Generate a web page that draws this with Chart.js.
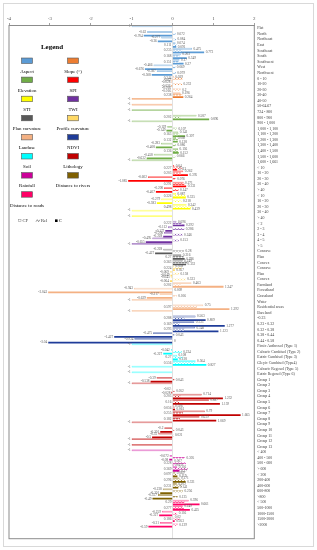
<!DOCTYPE html>
<html>
<head>
<meta charset="utf-8">
<script src="https://cdn.jsdelivr.net/npm/chart.js@4.4.1/dist/chart.umd.min.js"></script>
<style>
  html, body { margin: 0; padding: 0; background: #fff; }
  canvas { display: block; }
</style>
</head>
<body>
<canvas id="chart" width="317" height="550"></canvas>
<script>
// factors, their class counts and colours (legend order)
const factors = ['Aspect', 'Slope (\u00b0)', 'Elevation', 'SPI', 'STI', 'TWI', 'Plan curvature', 'Profile curvature',
  'Landuse', 'NDVI', 'Soil', 'Lithology', 'Rainfall', 'Distance to rivers', 'Distance to roads'];
const factorCounts = [9, 6, 10, 5, 5, 5, 3, 3, 6, 5, 6, 13, 4, 5, 5];
const factorColors = ['#5B9BD5', '#ED7D31', '#70AD47', '#FF0000', '#FFFF00', '#7030A0', '#595959', '#FFD966',
  '#F4B183', '#1F3C99', '#00FFFF', '#C00000', '#CC0099', '#7F6000', '#FF0066'];

const classLabels = [
  'Flat', 'North', 'Northeast', 'East', 'Southeast', 'South', 'Southwest', 'West', 'Northwest',
  '0 - 10', '10-20', '20-30', '30-40', '40-50', '50-64.67',
  '724 - 800', '800 - 900', '900 - 1,000', '1,000 - 1,100', '1,100 - 1,200', '1,200 - 1,300', '1,300 - 1,400', '1,400 - 1,500', '1,500 - 1,600', '1,600 - 1,661',
  '< 10', '10 - 20', '20 - 30', '30 - 40', '> 40',
  '< 10', '10 - 20', '20 - 30', '30 - 40', '> 40',
  '< 2', '2 - 3', '3 - 4', '4 - 5', '> 5',
  'Concave', 'Plan', 'Convex',
  'Concave', 'Plan', 'Convex',
  'Farmland', 'Forestland', 'Grassland', 'Water', 'Residential areas', 'Bareland',
  '-0.23', '0.23 - 0.32', '0.32 - 0.38', '0.38 - 0.44', '0.44 - 0.58',
  'Fimic Anthrosol (Type 1)', 'Calcaric Cambisol (Type 2)', 'Eutric Cambisol (Type 3)', 'Gleyic Cambisol (Type4)', 'Calcaric Regosol (Type 5)', 'Eutric Regosol (Type 6)',
  'Group 1', 'Group 2', 'Group 3', 'Group 4', 'Group 5', 'Group 6', 'Group 7', 'Group 8', 'Group 9', 'Group 10', 'Group 11', 'Group 12', 'Group 13',
  '< 400', '400 - 500', '500 - 600', '> 600',
  '< 200', '200-400', '400-600', '600-800', '>800',
  '< 500', '500-1000', '1000-1500', '1500-2000', '>2000'
];

const cfValues = [
  -1, -0.62, -0.277, 0.074, 0.475, 0.203, 0.17, -0.466, -0.387,
  0.029, -0.028, -0.016, 0.196, -1, -1,
  -1, 0.587, -1, -0.129, 0.141, 0.089, -0.283, 0.136, -0.458, -1,
  0.04, 0.262, -0.602, 0.271, -0.208,
  0.087, -0.279, 0.342, -1, -1,
  0.096, -0.112, -0.208, -0.495, -1,
  -0.228, 0.216, 0.249,
  0.038, -0.069, -0.045,
  0.463, -0.943, -0.317, -1, 0.75, -1,
  0.563, 0.533, 0.548, -0.475, -0.934,
  -1, -0.042, 0.108, 0.564, -1, -1,
  -0.39, -1, -0.02, 0.714, 0.887, 0.026, 0.79, 0.659, -1, -0.2, -0.35, -1, -1,
  -1, -0.072, 0.007, 0.116,
  0.069, 0.171, 0.102, -0.238, -0.357,
  0.396, 0.249, -0.259, 0.02, -0.31
];

const relValues = [
  null, 0.072, 0.084, 0.111, 0.235, 0.168, 0.151, 0.069, 0.079,
  0.244, 0.232, 0.2, 0.238, null, null,
  null, 0.202, null, 0.107, 0.163, 0.132, 0.086, 0.136, 0.066, null,
  0.227, 0.203, 0.076, 0.291, 0.147,
  0.326, 0.218, 0.498, null, null,
  0.222, 0.286, 0.246, 0.153, null,
  0.28, 0.27, 0.363,
  0.224, 0.158, 0.323,
  0.202, 0.009, 0.106, null, 0.597, null,
  0.288, 0.169, 0.293, 0.043, 0,
  null, 0.224, 0.27, 0.556, null, null,
  0.043, null, 0.052, 0.203, 0.16, 0.056, 0.255, 0.182, null, 0.043, 0.021, null, null,
  null, 0.305, 0.328, 0.369,
  0.097, 0.296, 0.231, 0.256, 0.125,
  0.29, 0.277, 0.116, 0.186, 0.129
];

const cValues = [
  null, -0.704, -0.36, 0.091, 0.773, 0.349, 0.27, -0.676, -0.508,
  -0.02, -0.026, -0.016, 0.264, null, null,
  null, 0.896, null, -0.149, 0.307, 0.128, -0.408, 0.152, -0.632, null,
  0.113, 0.376, -1.085, 0.333, -0.407,
  0.325, -0.383, 0.439, null, null,
  0.292, -0.177, -0.228, -0.655, null,
  -0.427, 0.296, 0.332,
  0.057, -0.049, -0.064,
  1.247, -3.043, -0.629, null, 1.392, null,
  0.809, 1.277, 1.123, -1.427, -3.04,
  null, -0.227, 0.128, 0.827, null, null,
  -0.538, null, -0.028, 1.232, 1.159, 0.061, 1.665, 1.069, null, -0.301, -0.5, null, null,
  null, -0.08, 0.019, 0.17,
  0.119, 0.321, 0.141, -0.301, -0.49,
  0.661, 0.425, -0.327, 0.053, -0.59
];

const xTicks = [-4, -3, -2, -1, 0, 1, 2];

const SERIF = '"Liberation Serif", "DejaVu Serif", serif';

function rgba(hex, a) {
  const n = parseInt(hex.slice(1), 16);
  return `rgba(${(n >> 16) & 255},${(n >> 8) & 255},${n & 255},${a})`;
}

function zigzag(color) {
  const c = document.createElement('canvas');
  c.width = 3; c.height = 3;
  const g = c.getContext('2d');
  g.fillStyle = '#fff';
  g.fillRect(0, 0, 3, 3);
  g.strokeStyle = color;
  g.lineWidth = 0.9;
  g.beginPath();
  g.moveTo(0, 2.6); g.lineTo(1.5, 0.4); g.lineTo(3, 2.6);
  g.stroke();
  return g.createPattern(c, 'repeat');
}

// factor index of every class
const classFactor = [];
factorCounts.forEach((n, k) => { for (let i = 0; i < n; i++) classFactor.push(k); });

const patterns = factorColors.map(zigzag);
const cfFill = classFactor.map(k => rgba(factorColors[k], 0.3));
const cfLine = classFactor.map(k => rgba(factorColors[k], 0.85));
const relFill = classFactor.map(k => patterns[k]);
const cFill = classFactor.map(k => factorColors[k]);

// two empty rows keep the frame running below the last class, as in the source
const labels = classLabels.concat(['', '']);

const backdrop = {
  id: 'backdrop',
  beforeDraw(chart) {
    const { ctx, width, height } = chart;
    ctx.save();
    ctx.fillStyle = '#fff';
    ctx.fillRect(0, 0, width, height);
    ctx.strokeStyle = '#d9d9d9';
    ctx.lineWidth = 1;
    ctx.strokeRect(3.5, 3.5, width - 7, height - 7);
    ctx.restore();
  },
  afterDraw(chart) {
    const { ctx, chartArea: a } = chart;
    ctx.save();
    ctx.strokeStyle = '#8c8c8c';
    ctx.lineWidth = 1;
    ctx.strokeRect(a.left, a.top, a.right - a.left, a.bottom - a.top);
    ctx.restore();
  }
};

const valueLabels = {
  id: 'valueLabels',
  afterDatasetsDraw(chart) {
    const { ctx } = chart;
    ctx.save();
    ctx.font = '3.4px ' + SERIF;
    ctx.fillStyle = '#595959';
    ctx.textBaseline = 'middle';
    chart.data.datasets.forEach((ds, d) => {
      const meta = chart.getDatasetMeta(d);
      meta.data.forEach((el, i) => {
        const v = ds.data[i];
        if (v === null || v === undefined) return;
        let x;
        if (d === 1 && cfValues[i] > 0) {
          ctx.textAlign = 'right'; x = el.base - 1.5;
        } else if (v < 0) {
          ctx.textAlign = 'right'; x = el.x - 1;
        } else {
          ctx.textAlign = 'left'; x = el.x + 1.5;
        }
        ctx.fillText(String(v), x, el.y);
      });
    });
    ctx.restore();
  }
};

const legendBox = {
  id: 'legendBox',
  afterDraw(chart) {
    const { ctx } = chart;
    ctx.save();
    ctx.fillStyle = '#000';
    ctx.textAlign = 'center';
    ctx.textBaseline = 'middle';
    ctx.font = 'bold 7px ' + SERIF;
    ctx.fillText('Legend', 52, 47);
    ctx.font = '4.9px ' + SERIF;
    const colX = [21.5, 67.5];
    factors.forEach((name, k) => {
      const row = Math.floor(k / 2);
      const bx = colX[k % 2];
      const by = 58 + row * 19.1;
      ctx.fillStyle = factorColors[k];
      ctx.fillRect(bx, by, 11, 5.5);
      ctx.strokeStyle = '#595959';
      ctx.lineWidth = 0.6;
      ctx.strokeRect(bx, by, 11, 5.5);
      ctx.fillStyle = '#000';
      ctx.fillText(name, bx + 5.5, by + 13.6);
    });
    // CF / Rel / C key
    const ky = 220.7;
    ctx.textAlign = 'left';
    ctx.font = '4.6px ' + SERIF;
    ctx.strokeStyle = '#8c8c8c';
    ctx.lineWidth = 0.5;
    ctx.strokeRect(18.5, ky - 1, 2.5, 2);
    ctx.fillStyle = '#333';
    ctx.fillText('CF', 22.5, ky);
    ctx.strokeStyle = '#333';
    ctx.beginPath();
    ctx.moveTo(36, ky + 1); ctx.lineTo(37.3, ky - 1); ctx.lineTo(38.6, ky + 1); ctx.lineTo(39.9, ky - 1);
    ctx.stroke();
    ctx.fillText('Rel', 41, ky);
    ctx.fillStyle = '#000';
    ctx.fillRect(55, ky - 1.3, 2.6, 2.6);
    ctx.fillText('C', 58.8, ky);
    ctx.restore();
  }
};

new Chart(document.getElementById('chart'), {
  type: 'bar',
  data: {
    labels: labels,
    datasets: [
      { label: 'CF', data: cfValues, backgroundColor: cfFill, borderColor: cfLine, borderWidth: 0.5 },
      { label: 'Rel', data: relValues, backgroundColor: relFill, borderWidth: 0 },
      { label: 'C', data: cValues, backgroundColor: cFill, borderWidth: 0 }
    ]
  },
  options: {
    indexAxis: 'y',
    responsive: false,
    animation: false,
    events: [],
    datasets: { bar: { barPercentage: 0.95, categoryPercentage: 1 } },
    layout: { padding: { left: 9, right: 6.7, top: 11.5, bottom: 11.3 } },
    plugins: {
      legend: { display: false },
      tooltip: { enabled: false }
    },
    scales: {
      x: {
        position: 'top',
        min: xTicks[0],
        max: xTicks[xTicks.length - 1],
        afterBuildTicks: s => { s.ticks = xTicks.map(v => ({ value: v })); },
        afterFit: s => { s.height = 14; },
        ticks: { font: { size: 5, family: SERIF }, color: '#595959', padding: 1.5 },
        grid: {
          color: c => (c.tick && c.tick.value === 0 ? '#d9d9d9' : 'rgba(0,0,0,0)'),
          lineWidth: 0.8,
          tickLength: 2.5,
          tickColor: '#8c8c8c'
        },
        border: { display: true, color: '#8c8c8c', width: 0.8 }
      },
      y: {
        position: 'right',
        afterFit: s => { s.width = 56; },
        ticks: { autoSkip: false, font: { size: 3.9, family: SERIF }, color: '#404040', padding: 3, crossAlign: 'near' },
        grid: { display: false, drawTicks: false },
        border: { display: false }
      }
    }
  },
  plugins: [backdrop, valueLabels, legendBox]
});
</script>
</body>
</html>
